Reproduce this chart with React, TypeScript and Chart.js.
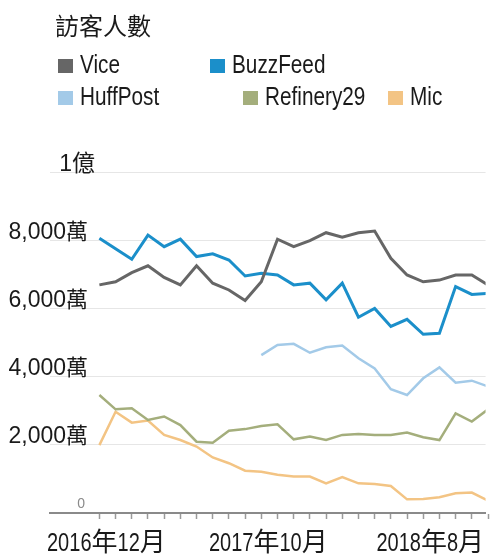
import React, { useEffect, useRef } from "react";
import { Chart, registerables } from "chart.js";

Chart.register(...registerables);

// ---- data ----
const title = "訪客人數";
const months = [
  "2016-12", "2017-01", "2017-02", "2017-03", "2017-04", "2017-05", "2017-06",
  "2017-07", "2017-08", "2017-09", "2017-10", "2017-11", "2017-12", "2018-01",
  "2018-02", "2018-03", "2018-04", "2018-05", "2018-06", "2018-07", "2018-08",
  "2018-09", "2018-10", "2018-11", "2018-12",
];
const xTickMonths = ["2016-12", "2017-10", "2018-08"];
const xTickLabels = ["2016年12月", "2017年10月", "2018年8月"];
const yTickValues = [0, 2000, 4000, 6000, 8000, 10000];
const yTickLabels = ["0", "2,000萬", "4,000萬", "6,000萬", "8,000萬", "1億"];

const seriesNames = ["Vice", "BuzzFeed", "HuffPost", "Refinery29", "Mic"];
const seriesColors = ["#666666", "#1b8fca", "#a3cae8", "#a4ae7c", "#f3c484"];

const vice = [6690, 6780, 7050, 7250, 6910, 6690, 7250, 6740, 6540, 6230, 6780, 8030, 7810, 7990, 8220, 8090, 8220, 8270, 7470, 6980, 6780, 6830, 6980, 6980, 6690];
const buzzFeed = [8060, 7750, 7440, 8150, 7810, 8030, 7520, 7600, 7420, 6950, 7030, 6980, 6690, 6740, 6250, 6740, 5740, 6000, 5470, 5680, 5240, 5270, 6640, 6410, 6440];
const huffPost = [null, null, null, null, null, null, null, null, null, null, 4630, 4930, 4960, 4700, 4860, 4910, 4540, 4240, 3630, 3460, 3950, 4270, 3820, 3880, 3710];
const refinery29 = [3460, 3040, 3070, 2730, 2830, 2580, 2090, 2060, 2410, 2460, 2550, 2600, 2160, 2240, 2140, 2290, 2320, 2290, 2290, 2360, 2220, 2140, 2920, 2680, 3040];
const mic = [1990, 2970, 2650, 2710, 2290, 2140, 1950, 1630, 1460, 1240, 1210, 1120, 1070, 1070, 870, 1050, 870, 850, 790, 400, 410, 460, 580, 600, 360];

const seriesValues = [vice, buzzFeed, huffPost, refinery29, mic];

const LATIN = "'Liberation Sans', Arial, sans-serif";
const CJK = "'Noto Sans CJK TC', 'Noto Sans CJK SC', sans-serif";
const CJK_RE = /[\u3000-\u9fff\uf900-\ufaff]/;

function splitRuns(text: string) {
  const runs: { t: string; cjk: boolean }[] = [];
  for (const ch of text) {
    const c = CJK_RE.test(ch);
    const last = runs[runs.length - 1];
    if (last && last.cjk === c) last.t += ch;
    else runs.push({ t: ch, cjk: c });
  }
  return runs;
}

function drawMixed(
  ctx: CanvasRenderingContext2D,
  text: string,
  x: number,
  y: number,
  align: "left" | "right" | "center",
  latinSize: number,
  latinScale: number,
  cjkSize: number,
  color: string
) {
  const runs = splitRuns(text).map((r) => {
    const font = r.cjk ? `${cjkSize}px ${CJK}` : `${latinSize}px ${LATIN}`;
    const s = r.cjk ? 1 : latinScale;
    ctx.font = font;
    return { ...r, font, s, w: ctx.measureText(r.t).width * s };
  });
  const total = runs.reduce((a, r) => a + r.w, 0);
  let cx = align === "right" ? x - total : align === "center" ? x - total / 2 : x;
  ctx.fillStyle = color;
  ctx.textAlign = "left";
  ctx.textBaseline = "alphabetic";
  for (const r of runs) {
    ctx.save();
    ctx.translate(cx, y);
    ctx.scale(r.s, 1);
    ctx.font = r.font;
    ctx.fillText(r.t, 0, 0);
    ctx.restore();
    cx += r.w;
  }
}

const overlayPlugin = {
  id: "overlay",
  afterDraw(chart: any) {
    const ctx = chart.ctx as CanvasRenderingContext2D;
    const ys = chart.scales.y;
    const xs = chart.scales.x;
    ctx.save();
    const ink = "#1a1a1a";
    // title
    drawMixed(ctx, title, 55, 35, "left", 24, 1, 24, ink);
    // legend
    const pos = [
      [58, 73], [210, 73], [58, 105], [243, 105], [388, 105],
    ];
    chart.data.datasets.forEach((ds: any, i: number) => {
      const [bx, by] = pos[i];
      ctx.fillStyle = ds.borderColor;
      ctx.fillRect(bx, by - 14, 15, 14);
      drawMixed(ctx, ds.label, bx + 22, by, "left", 25, 0.83, 25, ink);
    });
    // y tick labels
    yTickValues.forEach((v, i) => {
      const py = ys.getPixelForValue(v);
      if (v === 0) {
        drawMixed(ctx, yTickLabels[i], 85, py - 5, "right", 14, 1, 14, "#8a8a8a");
      } else if (i === yTickValues.length - 1) {
        drawMixed(ctx, yTickLabels[i], 95, py - 1.5, "right", 23, 1, 23, ink);
      } else {
        drawMixed(ctx, yTickLabels[i], 88, py - 1.5, "right", 23, 1, 22, ink);
      }
    });
    // x tick labels
    xTickMonths.forEach((m, i) => {
      const px = xs.getPixelForValue(months.indexOf(m));
      drawMixed(ctx, xTickLabels[i], px + 7, 551, "center", 26, 0.77, 26, ink);
    });
    ctx.restore();
  },
};

export default function App() {
  const ref = useRef<HTMLCanvasElement>(null);
  useEffect(() => {
    document.body.style.margin = "0";
    const canvas = ref.current!;
    const chart = new Chart(canvas, {
      type: "line",
      data: {
        datasets: seriesNames.map((name, si) => ({
          label: name,
          data: seriesValues[si].map((v, i) => ({ x: i, y: v })),
          borderColor: seriesColors[si],
          backgroundColor: seriesColors[si],
          borderWidth: si < 2 ? 3 : 2.5,
          pointRadius: 0,
          tension: 0,
          spanGaps: false,
        })),
      },
      options: {
        animation: false,
        responsive: false,
        events: [],
        layout: { padding: { left: 50, right: 0, top: 172, bottom: 0 } },
        plugins: { legend: { display: false }, tooltip: { enabled: false } },
        scales: {
          x: {
            type: "linear",
            min: -3.05,
            max: 23.85,
            afterBuildTicks: (scale: any) => {
              scale.ticks = months.map((_, i) => ({ value: i }));
            },
            afterFit: (scale: any) => {
              scale.height = 41;
            },
            ticks: {
              autoSkip: false,
              maxRotation: 0,
              callback: () => "",
            },
            grid: {
              drawOnChartArea: false,
              drawTicks: true,
              tickLength: 6,
              tickColor: "#9a9a9a",
              tickWidth: 1.5,
            },
            border: { display: true, color: "#8a8a8a", width: 2 },
          },
          y: {
            min: 0,
            max: 10000,
            afterBuildTicks: (scale: any) => {
              scale.ticks = yTickValues.map((v) => ({ value: v }));
            },
            afterFit: (scale: any) => {
              scale.width = 0;
            },
            ticks: { display: false },
            grid: { color: "#e6e6e6", lineWidth: 1, drawTicks: false },
            border: { display: false },
          },
        },
      },
      plugins: [overlayPlugin],
    });
    return () => chart.destroy();
  }, []);
  return (
    <div style={{ width: 491, height: 554, overflow: "hidden", background: "#fff" }}>
      <canvas ref={ref} width={491} height={554} style={{ display: "block" }} />
    </div>
  );
}
